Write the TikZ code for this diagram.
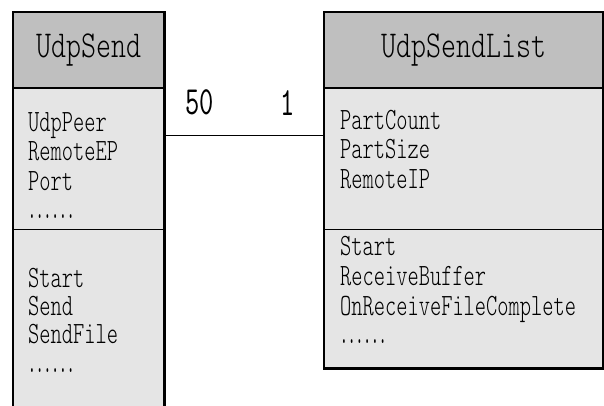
\documentclass[tikz,border=0pt]{standalone}
\usepackage{fontspec}
\usepackage{graphicx}
\newfontfamily\headfont{lmmonolt10-regular.otf}[FakeStretch=0.75]
\newfontfamily\bodyfont{lmmonolt10-regular.otf}[FakeStretch=0.69]
\newfontfamily\multfont{lmmono10-regular.otf}[FakeStretch=0.68]
\usetikzlibrary{positioning}
\newcommand\moredots{{\multfont\scalebox{0.7}[1]{......}}}

\begin{document}
\begin{tikzpicture}[x=1pt, y=-1pt,
    head_style/.style={fill=gray!50, anchor=north west, inner sep=0pt, font=\headfont\fontsize{38}{40}\selectfont},
    part_style/.style={fill=black!10, anchor=north west, inner sep=0pt},
    member_style/.style={anchor=base west, inner sep=0pt, font=\bodyfont\fontsize{31}{31}\selectfont},
    mult_style/.style={inner sep=0pt, font=\multfont\fontsize{40}{40}\selectfont},
    outline_style/.style={draw=black, line width=2.6pt},
    link_style/.style={draw=black, line width=0.9pt}]
  \useasboundingbox (0,0) rectangle (604,405);
  \clip (0,0) rectangle (604,405);

  % class UdpSend
  \node[head_style, minimum width=151pt, minimum height=76pt] (sendhead) at (13,12) {UdpSend};
  \node[part_style, minimum width=151pt, minimum height=140pt] (sendattr) at (sendhead.south west) {};
  \node[part_style, minimum width=151pt, minimum height=202pt] (sendops) at (sendattr.south west) {};
  \draw (sendattr.south west) -- (sendattr.south east);
  \draw[line width=2pt] (sendhead.south west) -- (sendhead.south east);
  \draw[outline_style] (sendhead.north west) rectangle (sendops.south east);

  % class UdpSendList
  \node[head_style, minimum width=279pt, minimum height=76pt] (listhead) at (324,12) {UdpSendList};
  \node[part_style, minimum width=279pt, minimum height=140pt] (listattr) at (listhead.south west) {};
  \node[part_style, minimum width=279pt, minimum height=139pt] (listops) at (listattr.south west) {};
  \draw (listattr.south west) -- (listattr.south east);
  \draw[line width=2pt] (listhead.south west) -- (listhead.south east);
  \draw[outline_style] (listhead.north west) rectangle (listops.south east);

  % members
  \draw
    (28, 131) node[member_style] (sa1){UdpPeer}
    (28, 160) node[member_style] (sa2){RemoteEP}
    (28, 190) node[member_style] (sa3){Port}
    (28, 218) node[member_style] (sa4){\moredots}
    (28, 287) node[member_style] (so1){Start}
    (28, 315) node[member_style] (so2){Send}
    (28, 343) node[member_style] (so3){SendFile}
    (28, 372) node[member_style] (so4){\moredots}
    (340, 129.5) node[member_style] (la1){PartCount}
    (340, 158.5) node[member_style] (la2){PartSize}
    (340, 188) node[member_style] (la3){RemoteIP}
    (340, 255) node[member_style] (lo1){Start}
    (340, 285) node[member_style] (lo2){ReceiveBuffer}
    (340, 315) node[member_style] (lo3){OnReceiveFileComplete}
    (340, 343) node[member_style] (lo4){\moredots};

  % association
  \coordinate (send_link) at ([yshift=-47pt]sendattr.north east);
  \coordinate (list_link) at (send_link -| listattr.west);
  \draw[link_style] (send_link) -- (list_link);
  \node[mult_style, above right=20pt and 21pt of send_link] (many) {50};
  \node[mult_style, above left=20pt and 29pt of list_link] (one) {1};
\end{tikzpicture}
\end{document}
